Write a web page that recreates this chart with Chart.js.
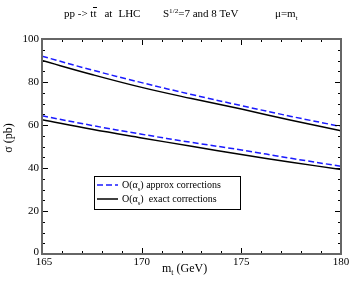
<!DOCTYPE html>
<html>
<head>
<meta charset="utf-8">
<script src="https://cdn.jsdelivr.net/npm/chart.js@4"></script>
<style>
  html, body { margin: 0; padding: 0; background: #fff; }
  #wrap { width: 349px; height: 281px; }
</style>
</head>
<body>
<div id="wrap"><canvas id="c" width="349" height="281"></canvas></div>
<script>
/* data */
const topMass = [165, 167.5, 170, 172.5, 175, 177.5, 180];
const approx8 = [92.0, 85.6, 79.7, 74.2, 69.0, 64.0, 59.3];
const exact8 = [90.0, 83.5, 77.5, 72.3, 67.4, 62.2, 57.3];
const approx7 = [64.3, 59.8, 55.7, 51.9, 48.4, 44.5, 40.8];
const exact7 = [62.4, 58.0, 54.0, 50.1, 46.3, 42.7, 39.3];
const xTicks = [165, 170, 175, 180];
const yTicks = [0, 20, 40, 60, 80, 100];

const serif = '"Liberation Serif", "DejaVu Serif", serif';
const blue = '#1a1aff';

function pts(ys) {
  return ys.map((y, i) => ({ x: topMass[i], y: y }));
}

function lineSet(ys, dashed) {
  return {
    data: pts(ys),
    borderColor: dashed ? blue : '#000',
    borderWidth: 1.5,
    borderDash: dashed ? [6, 3] : [],
    pointRadius: 0,
    tension: 0.4,
    fill: false
  };
}

// draws text pieces with sub/superscripts, returns end x
function drawRich(ctx, x, y, parts, size) {
  parts.forEach(p => {
    let s = size, dy = 0;
    if (p.sup) { s = size * 0.65; dy = -size * 0.4; }
    if (p.sub) { s = size * 0.65; dy = size * 0.25; }
    ctx.font = s + 'px ' + serif;
    ctx.fillText(p.t, x, y + dy);
    x += ctx.measureText(p.t).width;
  });
  return x;
}

const frame = {
  id: 'frame',
  afterDraw(chart) {
    const ctx = chart.ctx;
    const a = chart.chartArea;
    const xs = chart.scales.x, ys = chart.scales.y;
    ctx.save();

    // ticks, all pointing in
    ctx.strokeStyle = '#000';
    ctx.lineWidth = 1;
    ctx.beginPath();
    for (let v = 165; v <= 180; v++) {
      const px = Math.round(xs.getPixelForValue(v)) + 0.5;
      const len = v % 5 === 0 ? 6 : 3;
      ctx.moveTo(px, a.bottom); ctx.lineTo(px, a.bottom - len);
      ctx.moveTo(px, a.top); ctx.lineTo(px, a.top + len);
    }
    for (let v = 0; v <= 100; v += 5) {
      const py = Math.round(ys.getPixelForValue(v)) + 0.5;
      const len = v % 20 === 0 ? 6 : 3;
      ctx.moveTo(a.left, py); ctx.lineTo(a.left + len, py);
      ctx.moveTo(a.right, py); ctx.lineTo(a.right - len, py);
    }
    ctx.stroke();

    // frame
    ctx.strokeStyle = '#666';
    ctx.lineWidth = 2;
    ctx.strokeRect(a.left, a.top, a.right - a.left, a.bottom - a.top);

    // tick labels
    ctx.fillStyle = '#000';
    ctx.font = '11px ' + serif;
    ctx.textBaseline = 'middle';
    ctx.textAlign = 'right';
    yTicks.forEach(v => {
      const py = ys.getPixelForValue(v) - (v === 0 ? 2 : 0);
      ctx.fillText(String(v), a.left - 3, py);
    });
    ctx.textAlign = 'center';
    xTicks.forEach(v => {
      ctx.fillText(String(v), xs.getPixelForValue(v) + (v === 165 ? 2 : 0), a.bottom + 8);
    });

    // title
    ctx.textAlign = 'left';
    ctx.textBaseline = 'alphabetic';
    let x = drawRich(ctx, 64, 17, [{ t: 'pp -> tt' }], 11);
    ctx.font = '11px ' + serif;
    const tw = ctx.measureText('t').width;
    ctx.fillRect(Math.round(x - tw - 0.5), 7, Math.round(tw + 1), 1);
    x = drawRich(ctx, x + 8, 17, [{ t: 'at' }], 11);
    drawRich(ctx, x + 6, 17, [{ t: 'LHC' }], 11);
    drawRich(ctx, 163, 17, [{ t: 'S' }, { t: '1/2', sup: true }, { t: '=7 and 8 TeV' }], 11);
    drawRich(ctx, 275, 17, [{ t: '\u03bc=m' }, { t: 't', sub: true }], 11);

    // axis titles
    ctx.textAlign = 'left';
    drawRich(ctx, 162, 272, [{ t: 'm' }, { t: 't', sub: true }, { t: ' (GeV)' }], 12);
    ctx.translate(12, 138);
    ctx.rotate(-Math.PI / 2);
    ctx.textAlign = 'center';
    ctx.font = '12px ' + serif;
    ctx.fillText('\u03c3 (pb)', 0, 0);
    ctx.setTransform(1, 0, 0, 1, 0, 0);

    // legend
    ctx.strokeStyle = '#000';
    ctx.lineWidth = 1;
    ctx.strokeRect(94.5, 176.5, 146, 33);
    ctx.lineWidth = 1.5;
    ctx.strokeStyle = blue;
    ctx.setLineDash([6, 3]);
    ctx.beginPath(); ctx.moveTo(97, 185); ctx.lineTo(118, 185); ctx.stroke();
    ctx.setLineDash([]);
    ctx.strokeStyle = '#000';
    ctx.beginPath(); ctx.moveTo(97, 199); ctx.lineTo(118, 199); ctx.stroke();
    ctx.textAlign = 'left';
    ctx.fillStyle = '#000';
    drawRich(ctx, 122, 188, [{ t: 'O(\u03b1' }, { t: 's', sub: true }, { t: ') approx corrections' }], 10);
    drawRich(ctx, 122, 202, [{ t: 'O(\u03b1' }, { t: 's', sub: true }, { t: ')  exact corrections' }], 10);

    ctx.restore();
  }
};

new Chart(document.getElementById('c'), {
  type: 'line',
  data: {
    datasets: [
      lineSet(approx8, true),
      lineSet(exact8, false),
      lineSet(approx7, true),
      lineSet(exact7, false)
    ]
  },
  options: {
    responsive: false,
    animation: false,
    layout: { padding: { left: 34, right: 8, top: 39, bottom: 19 } },
    plugins: { legend: { display: false }, tooltip: { enabled: false }, title: { display: false } },
    scales: {
      x: {
        type: 'linear', min: 165, max: 180,
        ticks: { display: false }, grid: { display: false }, border: { display: false }
      },
      y: {
        min: 0, max: 100,
        ticks: { display: false }, grid: { display: false }, border: { display: false }
      }
    }
  },
  plugins: [frame]
});
</script>
</body>
</html>
